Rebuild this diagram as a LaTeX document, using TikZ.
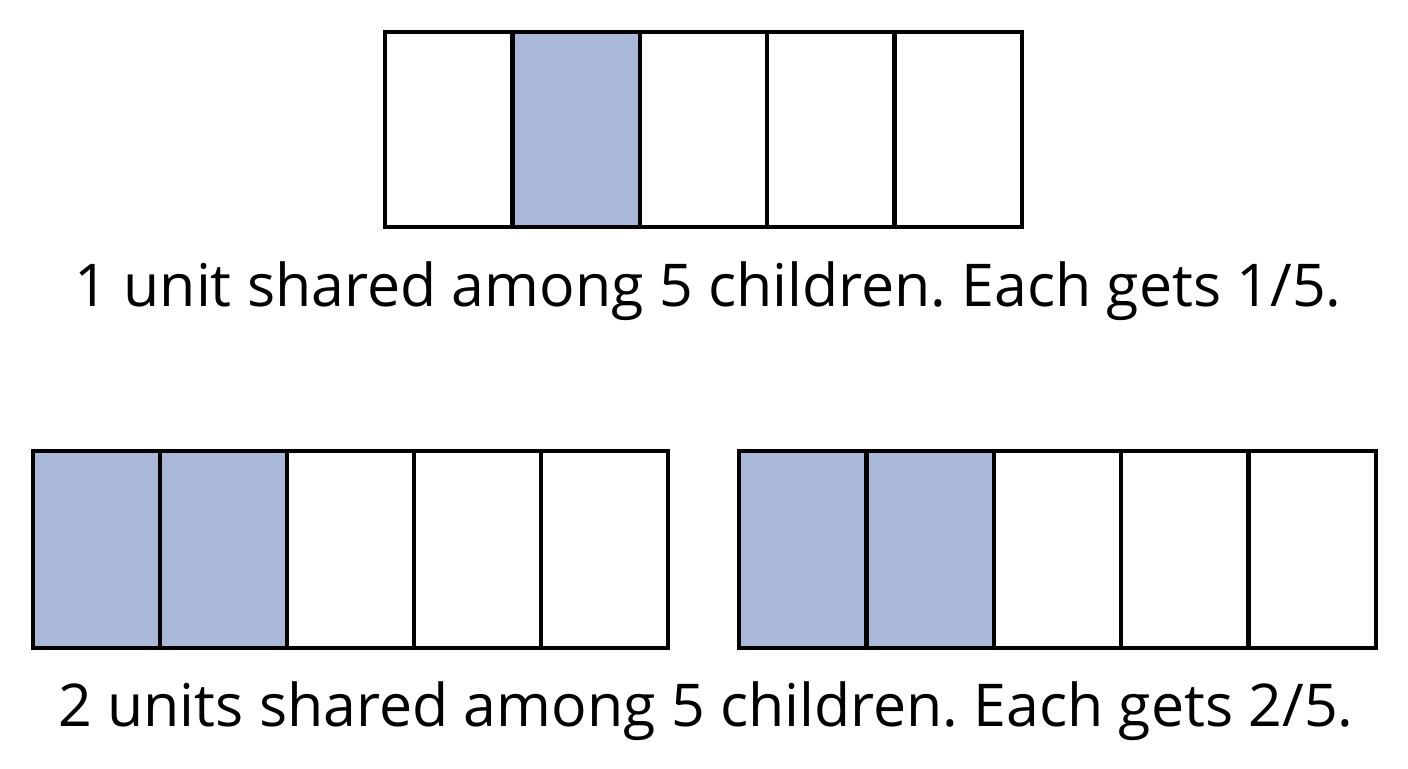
\documentclass[tikz,border=0pt]{standalone}
\usepackage{fontspec}
\setmainfont{Open Sans}
\definecolor{shade}{HTML}{AAB9DA}
\tikzset{
  cell/.style={draw=black, line width=2.2pt},
  filled/.style={cell, fill=shade},
  caption/.style={anchor=base, inner sep=0pt, font=\fontsize{29.5}{36}\selectfont}
}
\frenchspacing
\begin{document}
\begin{tikzpicture}[x=0.5pt,y=-0.5pt]
\useasboundingbox (0,0) rectangle (1408,768);
% top bar
\foreach \i in {0,...,4} {
  \pgfmathsetmacro{\xa}{385+\i*127.4}
  \pgfmathsetmacro{\xb}{385+(\i+1)*127.4}
  \ifnum\i=1
    \draw[filled] (\xa,32) rectangle (\xb,227);
  \else
    \draw[cell] (\xa,32) rectangle (\xb,227);
  \fi
}
\node[caption] (t1) at (708,306) {1 unit shared among 5 children. Each gets 1/5.};
% bottom left bar
\foreach \i in {0,...,4} {
  \pgfmathsetmacro{\xa}{33+\i*127}
  \pgfmathsetmacro{\xb}{33+(\i+1)*127}
  \ifnum\i<2
    \draw[filled] (\xa,451) rectangle (\xb,648);
  \else
    \draw[cell] (\xa,451) rectangle (\xb,648);
  \fi
}
% bottom right bar
\foreach \i in {0,...,4} {
  \pgfmathsetmacro{\xa}{739+\i*127.4}
  \pgfmathsetmacro{\xb}{739+(\i+1)*127.4}
  \ifnum\i<2
    \draw[filled] (\xa,451) rectangle (\xb,648);
  \else
    \draw[cell] (\xa,451) rectangle (\xb,648);
  \fi
}
\node[caption] (t2) at (706,726) {2 units shared among 5 children. Each gets 2/5.};
\end{tikzpicture}
\end{document}
